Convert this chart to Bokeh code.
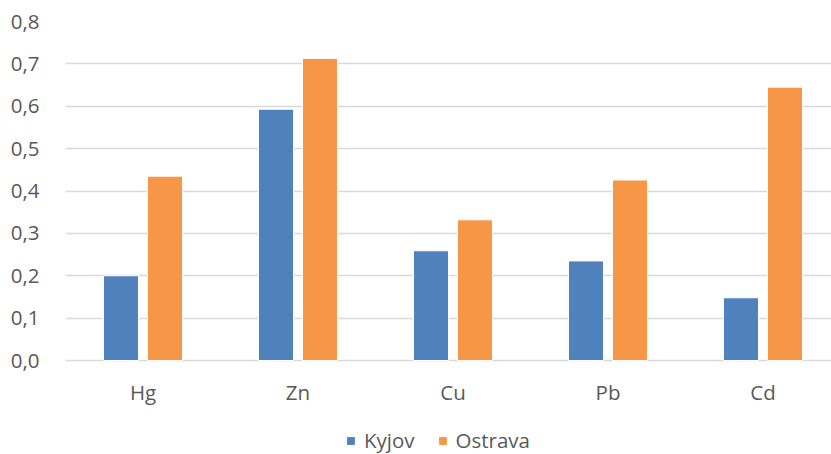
from bokeh.plotting import figure
from bokeh.models import ColumnDataSource, Legend, LegendItem, FixedTicker, CustomJSTickFormatter, Range1d
from bokeh.core.properties import value
from bokeh.embed import file_html
from bokeh.resources import INLINE
from bokeh.transform import dodge

categories = ["Hg", "Zn", "Cu", "Pb", "Cd"]
kyjov = [0.20, 0.593, 0.259, 0.235, 0.148]
ostrava = [0.435, 0.713, 0.332, 0.426, 0.645]
y_ticks = [0.0, 0.1, 0.2, 0.3, 0.4, 0.5, 0.6, 0.7, 0.8]

xs = list(range(len(categories)))
src = ColumnDataSource(dict(x=xs, cat=categories, kyjov=kyjov, ostrava=ostrava,
                            base=[0.0] * len(categories)))

FONT = "Open Sans"
TXT = "#595959"
FS = "20.5px"

# frame covers plot + area below it (labels, legend); 339 px = 0.8 units
p = figure(frame_width=766, frame_height=433, output_backend="svg", toolbar_location=None,
           x_range=Range1d(-0.5, 4.442), y_range=Range1d(-0.2218, 0.8),
           min_border_left=65, min_border_right=0, min_border_top=21, min_border_bottom=0)
p.outline_line_color = None
p.background_fill_color = "white"

p.xgrid.grid_line_color = None
p.ygrid.grid_line_color = "#D9D9D9"
p.ygrid.grid_line_width = 1.5
p.ygrid.ticker = FixedTicker(ticks=y_ticks)

r1 = p.vbar(x=dodge("x", -0.142), top="kyjov", bottom="base", width=0.226, source=src,
            fill_color="#4F81BD", line_color="white", line_width=1)
r2 = p.vbar(x=dodge("x", 0.142), top="ostrava", bottom="base", width=0.226, source=src,
            fill_color="#F79646", line_color="white", line_width=1)

# category labels under the zero line
p.text(x="x", y="base", text="cat", source=src, y_offset=31,
       text_align="center", text_baseline="middle",
       text_font=value(FONT), text_font_size=value(FS), text_color=TXT)

p.yaxis.ticker = FixedTicker(ticks=y_ticks)
p.yaxis.formatter = CustomJSTickFormatter(code="return tick.toFixed(1).replace('.', ',');")
p.yaxis.axis_line_color = None
p.yaxis.major_tick_line_color = None
p.yaxis.minor_tick_line_color = None
p.yaxis.major_label_text_font = FONT
p.yaxis.major_label_text_font_size = FS
p.yaxis.major_label_text_color = TXT
p.yaxis.major_label_standoff = 20

p.xaxis.visible = False

legend = Legend(items=[LegendItem(label="Kyjov", renderers=[r1]),
                       LegendItem(label="Ostrava", renderers=[r2])],
                orientation="horizontal", location=(280, 0),
                label_text_font=FONT, label_text_font_size=FS, label_text_color=TXT,
                glyph_width=11, glyph_height=11, label_standoff=8, spacing=22,
                padding=0, margin=0, border_line_color=None, background_fill_alpha=0)
p.add_layout(legend, "center")

open("out.html", "w").write(file_html(p, INLINE))
